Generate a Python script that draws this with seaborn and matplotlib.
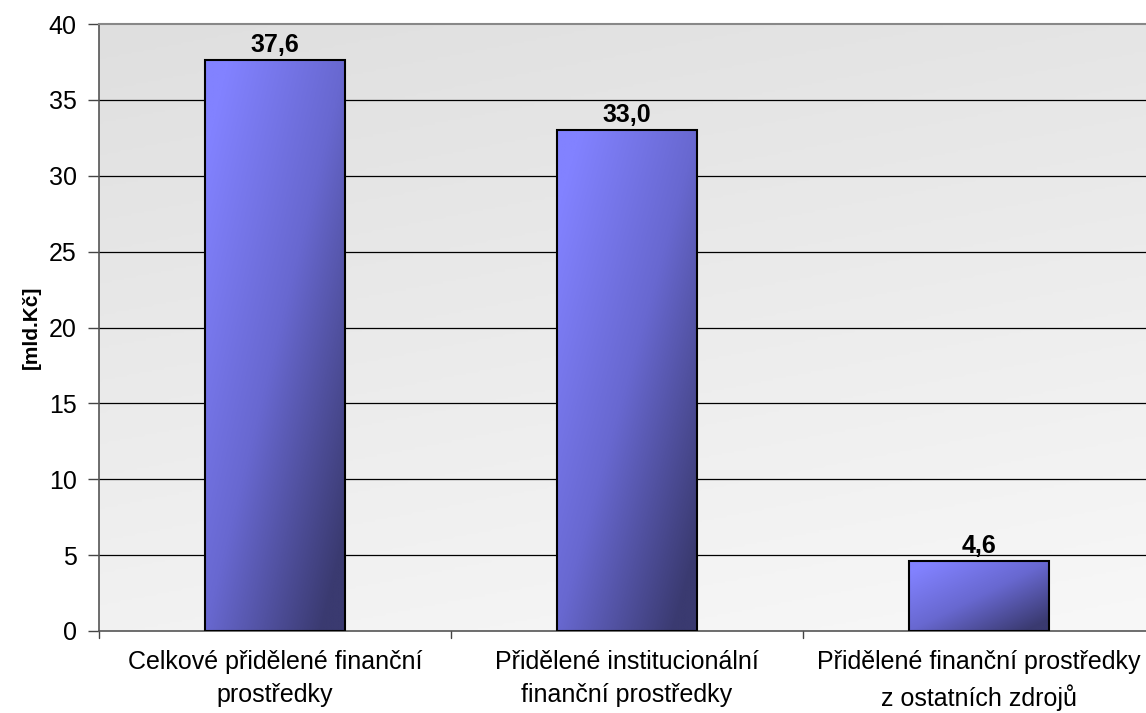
import matplotlib
matplotlib.use("Agg")
import matplotlib.pyplot as plt
import seaborn as sns
import pandas as pd
import numpy as np
from matplotlib.colors import LinearSegmentedColormap

# Data
categories = ["Celkové přidělené finanční\nprostředky",
              "Přidělené institucionální\nfinanční prostředky",
              "Přidělené finanční prostředky\nz ostatních zdrojů"]
values = [37.6, 33.0, 4.6]
value_labels = ["37,6", "33,0", "4,6"]
y_ticks = [0, 5, 10, 15, 20, 25, 30, 35, 40]

df = pd.DataFrame({"Kategorie": categories, "Hodnota": values})

sns.set_style("white")
plt.rcParams["font.family"] = ["Liberation Sans", "DejaVu Sans"]
plt.rcParams["text.color"] = "black"
plt.rcParams["xtick.color"] = "black"
plt.rcParams["ytick.color"] = "black"
plt.rcParams["axes.labelcolor"] = "black"

fig = plt.figure(figsize=(11.46, 7.13), dpi=100)
ax = fig.add_axes([99 / 1146, 1 - 631 / 713, 1056 / 1146, 607 / 713])

sns.barplot(data=df, x="Kategorie", y="Hodnota", color="#7070e0",
            width=0.4, edgecolor="black", linewidth=1.5, ax=ax, zorder=3)

ax.set_xlim(-0.5, 2.5)
ax.set_ylim(0, 40)

# background gradient of plot area
bg = np.linspace(0, 1, 256)
bgx, bgy = np.meshgrid(bg, bg)
bg_grad = (bgy * 0.75 + (1 - bgx) * 0.25)
bg_cmap = LinearSegmentedColormap.from_list("bg", ["#f8f8f8", "#dfdfdf"])
ax.imshow(bg_grad, cmap=bg_cmap, extent=[0, 1, 0, 1], transform=ax.transAxes,
          aspect="auto", zorder=0, origin="lower")

# gradient fill on bars (light top-left -> dark bottom-right)
bar_cmap = LinearSegmentedColormap.from_list("bar", ["#8282ff", "#6868d0", "#3a3a70"])
gx, gy = np.meshgrid(np.linspace(0, 1, 200), np.linspace(0, 1, 200))
for patch in ax.patches:
    x0, y0 = patch.get_x(), patch.get_y()
    w, h = patch.get_width(), patch.get_height()
    grad = np.clip(gx * 0.6 + gy * 0.6 - 0.1, 0, 1)
    im = ax.imshow(grad, cmap=bar_cmap, extent=[x0, x0 + w, y0, y0 + h],
                   aspect="auto", zorder=3, origin="upper", vmin=0, vmax=1)
    im.set_clip_path(patch)
    patch.set_facecolor("none")
    patch.set_zorder(4)

ax.set_xlim(-0.5, 2.5)
ax.set_ylim(0, 40)

# value labels
for i, (v, lab) in enumerate(zip(values, value_labels)):
    ax.text(i, v + 0.2, lab, ha="center", va="bottom", fontsize=18,
            fontweight="bold", zorder=5)

# grid
ax.set_yticks(y_ticks)
ax.set_yticklabels([str(t) for t in y_ticks], fontsize=18)
for t in y_ticks[1:-1]:
    ax.axhline(t, color="black", linewidth=0.9, zorder=1)

ax.set_xticks([0, 1, 2])
ax.set_xticklabels(categories, fontsize=18, linespacing=1.45)
ax.tick_params(axis="x", length=0, pad=14)
ax.tick_params(axis="y", length=8, width=1, color="#444444", left=True, pad=8)
for b in [-0.5, 0.5, 1.5]:
    ax.plot([b, b], [0, -0.012], transform=ax.get_xaxis_transform(),
            color="#444444", linewidth=1, clip_on=False)

ax.set_xlabel("")
ax.set_ylabel("[mld.Kč]", fontsize=15, fontweight="bold", labelpad=6)

for s in ["left", "bottom"]:
    ax.spines[s].set_visible(True)
    ax.spines[s].set_color("#555555")
    ax.spines[s].set_linewidth(1.2)
ax.spines["top"].set_color("#888888")
ax.spines["top"].set_linewidth(1.5)
ax.spines["right"].set_visible(False)

fig.savefig("out.png", dpi=100)
